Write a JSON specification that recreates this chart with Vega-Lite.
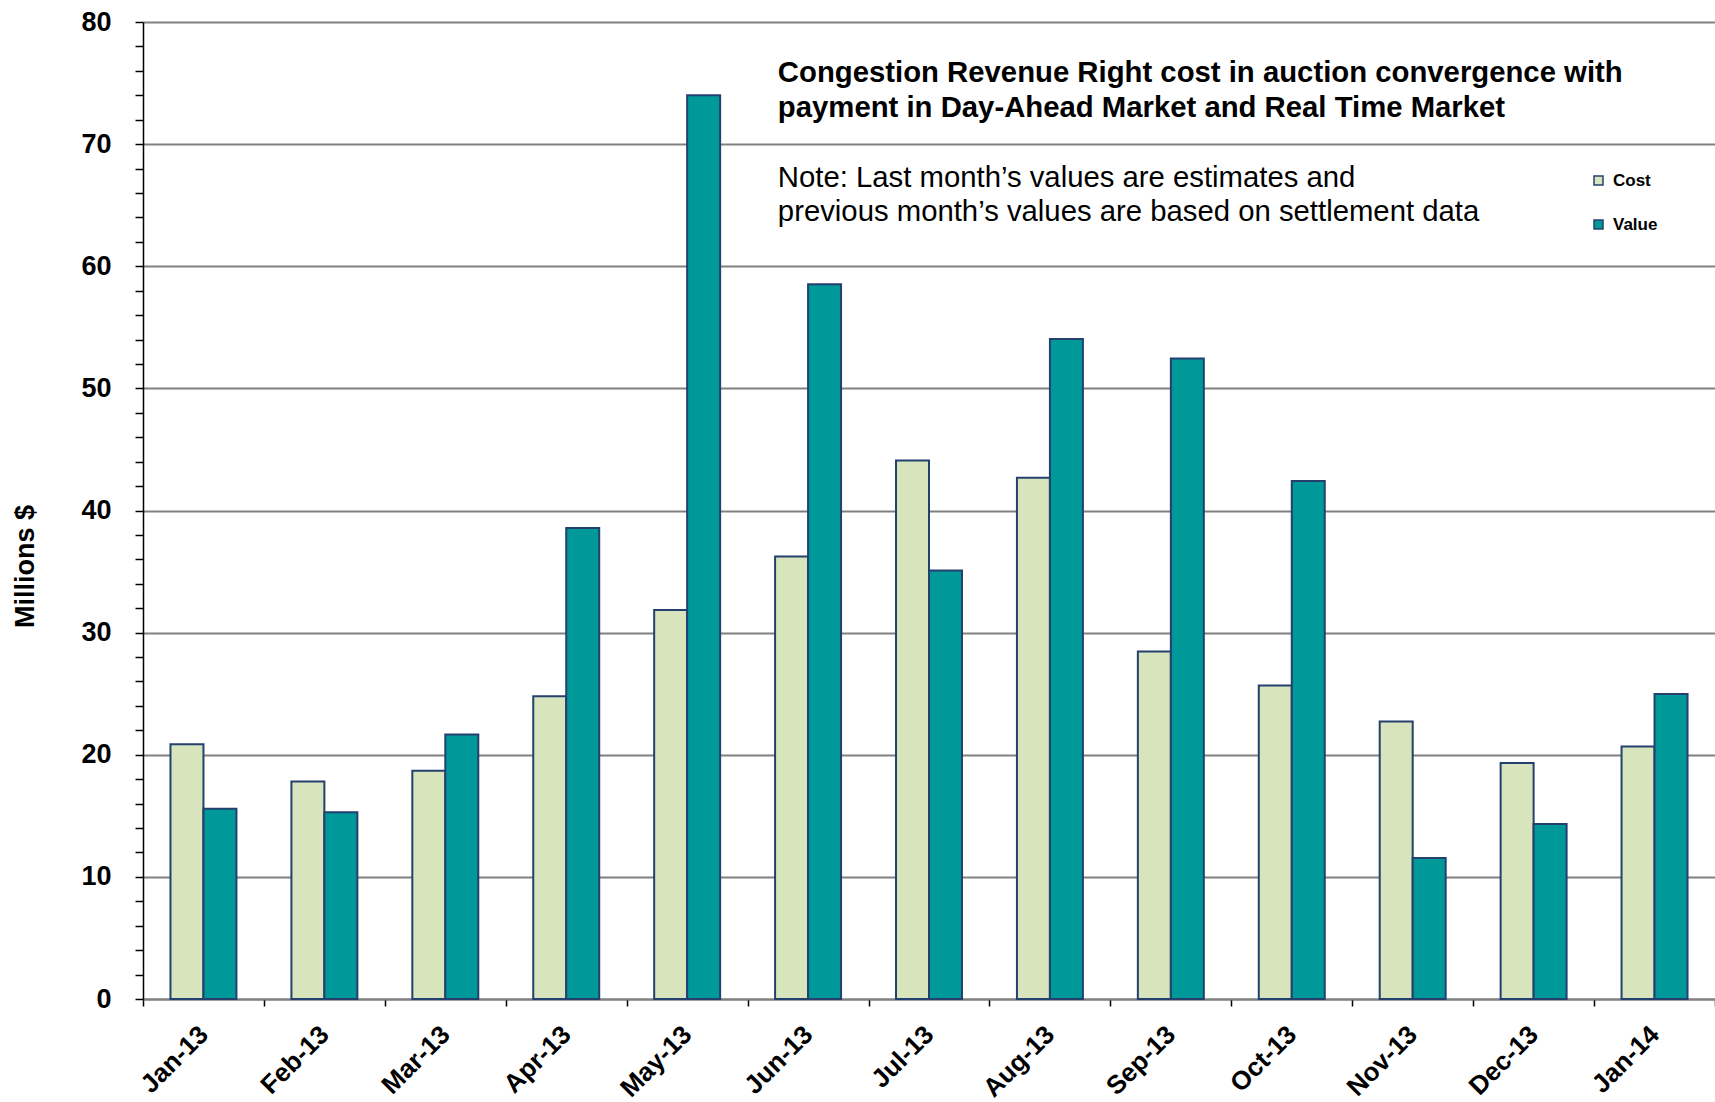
{
  "$schema": "https://vega.github.io/schema/vega-lite/v6.json",
  "autosize": {"type": "none"},
  "width": 1572,
  "height": 977,
  "padding": {"left": 143, "top": 22, "right": 0, "bottom": 103},
  "background": "white",
  "config": {
    "font": "Liberation Sans",
    "view": {"stroke": null}
  },
  "datasets": {
    "crr": [
      {"month": "Jan-13", "series": "Cost", "value": 20.85},
      {"month": "Jan-13", "series": "Value", "value": 15.57},
      {"month": "Feb-13", "series": "Cost", "value": 17.8},
      {"month": "Feb-13", "series": "Value", "value": 15.3},
      {"month": "Mar-13", "series": "Cost", "value": 18.7},
      {"month": "Mar-13", "series": "Value", "value": 21.65},
      {"month": "Apr-13", "series": "Cost", "value": 24.8},
      {"month": "Apr-13", "series": "Value", "value": 38.57},
      {"month": "May-13", "series": "Cost", "value": 31.86},
      {"month": "May-13", "series": "Value", "value": 74.0},
      {"month": "Jun-13", "series": "Cost", "value": 36.24},
      {"month": "Jun-13", "series": "Value", "value": 58.52},
      {"month": "Jul-13", "series": "Cost", "value": 44.1},
      {"month": "Jul-13", "series": "Value", "value": 35.08},
      {"month": "Aug-13", "series": "Cost", "value": 42.68},
      {"month": "Aug-13", "series": "Value", "value": 54.05},
      {"month": "Sep-13", "series": "Cost", "value": 28.46},
      {"month": "Sep-13", "series": "Value", "value": 52.44},
      {"month": "Oct-13", "series": "Cost", "value": 25.68},
      {"month": "Oct-13", "series": "Value", "value": 42.42},
      {"month": "Nov-13", "series": "Cost", "value": 22.73},
      {"month": "Nov-13", "series": "Value", "value": 11.54},
      {"month": "Dec-13", "series": "Cost", "value": 19.33},
      {"month": "Dec-13", "series": "Value", "value": 14.32},
      {"month": "Jan-14", "series": "Cost", "value": 20.67},
      {"month": "Jan-14", "series": "Value", "value": 24.97}
    ]
  },
  "layer": [
    {
      "data": {"name": "crr"},
      "mark": {"type": "bar", "stroke": "#24406e", "strokeWidth": 2},
      "encoding": {
        "x": {
          "field": "month",
          "type": "nominal",
          "sort": null,
          "scale": {"paddingInner": 0, "paddingOuter": 0},
          "axis": {
            "title": null,
            "labelAngle": -45,
            "labelAlign": "right",
            "labelBaseline": "middle",
            "labelFont": "Liberation Sans",
            "labelFontSize": 26,
            "labelFontWeight": "bold",
            "labelColor": "black",
            "labelPadding": 24,
            "tickBand": "extent",
            "tickSize": 7,
            "tickColor": "black",
            "tickWidth": 1.5,
            "domainColor": "#808080",
            "domainWidth": 2,
            "grid": false
          }
        },
        "xOffset": {
          "field": "series",
          "type": "nominal",
          "scale": {"domain": ["Cost", "Value"], "paddingInner": 0, "paddingOuter": 0.833}
        },
        "y": {
          "field": "value",
          "type": "quantitative",
          "scale": {"domain": [0, 80], "nice": false},
          "axis": {
            "title": "Millions $",
            "titleFont": "Liberation Sans",
            "titleFontSize": 27,
            "titleFontWeight": "bold",
            "titleColor": "black",
            "titleAngle": -90,
            "titleAlign": "center",
            "titleBaseline": "middle",
            "titleX": -118,
            "titleY": 544,
            "tickCount": 100,
            "values": [0, 2, 4, 6, 8, 10, 12, 14, 16, 18, 20, 22, 24, 26, 28, 30, 32, 34, 36, 38, 40, 42, 44, 46, 48, 50, 52, 54, 56, 58, 60, 62, 64, 66, 68, 70, 72, 74, 76, 78, 80],
            "labelExpr": "datum.value % 10 === 0 ? datum.label : ''",
            "labelOverlap": false,
            "labelFont": "Liberation Sans",
            "labelFontSize": 27,
            "labelFontWeight": "bold",
            "labelColor": "black",
            "labelPadding": 24,
            "tickSize": 8,
            "tickColor": "black",
            "tickWidth": 1.5,
            "domainColor": "black",
            "domainWidth": 1.5,
            "grid": true,
            "gridColor": "#808080",
            "gridWidth": 2,
            "gridOpacity": {"condition": {"test": "datum.value % 10 === 0", "value": 1}, "value": 0}
          }
        },
        "color": {
          "field": "series",
          "type": "nominal",
          "scale": {"domain": ["Cost", "Value"], "range": ["#d8e4bc", "#009999"]},
          "legend": {
            "title": null,
            "orient": "none",
            "legendX": 1447,
            "legendY": 150,
            "padding": 0,
            "symbolType": "square",
            "symbolSize": 81,
            "symbolStrokeColor": "#24406e",
            "symbolStrokeWidth": 1.5,
            "labelFont": "Liberation Sans",
            "labelFontSize": 17,
            "labelFontWeight": "bold",
            "labelColor": "black",
            "labelOffset": 6,
            "rowPadding": 26
          }
        }
      }
    },
    {
      "data": {"values": [{}]},
      "mark": {
        "type": "text",
        "text": ["Congestion Revenue Right cost in auction convergence with", "payment in Day-Ahead Market and Real Time Market"],
        "font": "Liberation Sans",
        "fontSize": 29.3,
        "fontWeight": "bold",
        "align": "left",
        "baseline": "alphabetic",
        "lineHeight": 35,
        "color": "black"
      },
      "encoding": {
        "x": {"datum": "Jun-13", "type": "nominal", "bandPosition": 0.25},
        "y": {"datum": 75.1, "type": "quantitative"}
      }
    },
    {
      "data": {"values": [{}]},
      "mark": {
        "type": "text",
        "text": ["Note: Last month’s values are estimates and", "previous month’s values are based on settlement data"],
        "font": "Liberation Sans",
        "fontSize": 29.3,
        "fontWeight": "normal",
        "align": "left",
        "baseline": "alphabetic",
        "lineHeight": 34,
        "color": "black"
      },
      "encoding": {
        "x": {"datum": "Jun-13", "type": "nominal", "bandPosition": 0.25},
        "y": {"datum": 66.5, "type": "quantitative"}
      }
    }
  ]
}
